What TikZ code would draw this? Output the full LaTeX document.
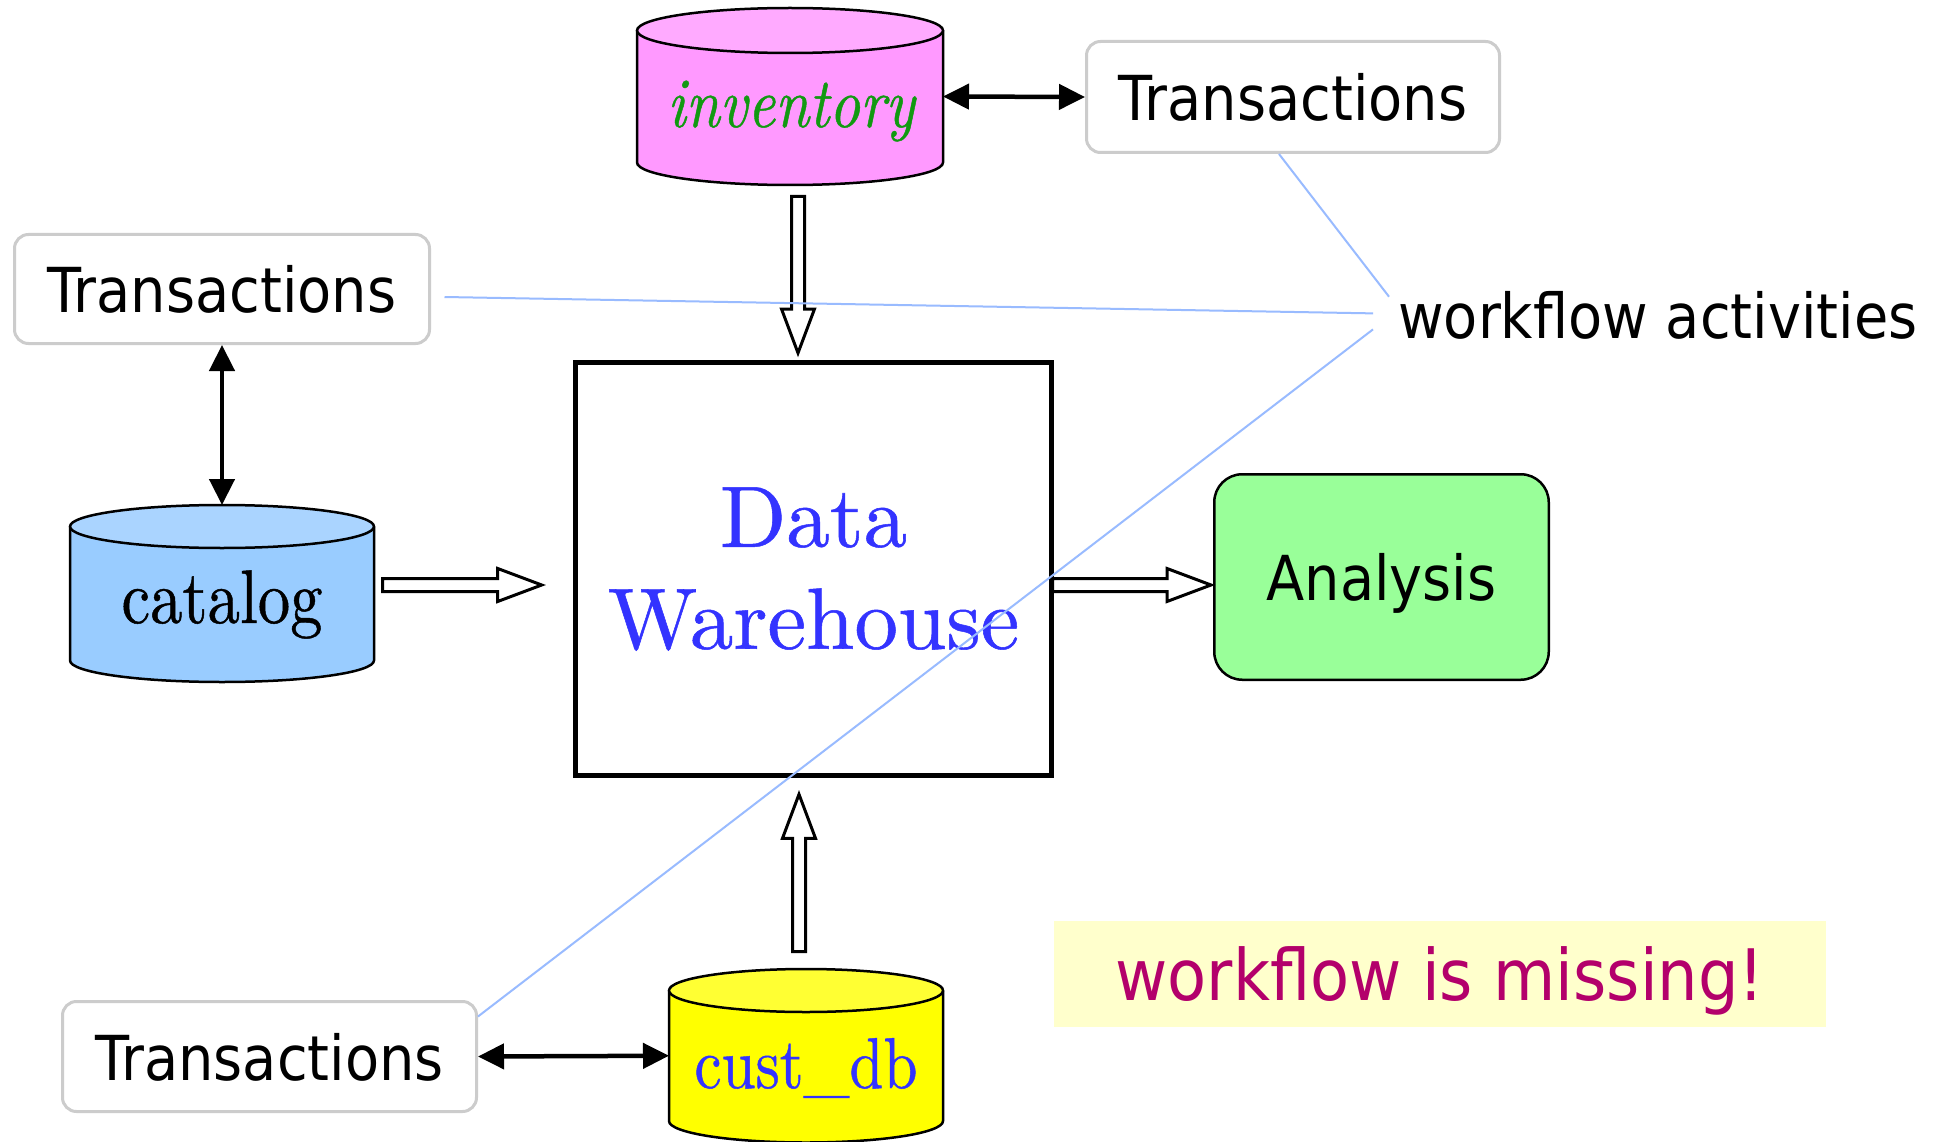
\documentclass[tikz,border=0pt]{standalone}
\usepackage{fontspec}
\usetikzlibrary{calc,arrows.meta}

\newfontfamily\tahoma{DejaVu Sans}[FakeStretch=0.9]
\newfontfamily\pala{lmroman10}[Extension=.otf, UprightFont=*-regular, ItalicFont=*-italic, FakeStretch=0.85, FakeBold=0.6]
\newfontfamily\dwfont{lmroman10}[Extension=.otf, UprightFont=*-regular, FakeBold=0.6]

\definecolor{invbody}{HTML}{FF99FF}
\definecolor{invtop}{HTML}{FFAAFF}
\definecolor{catbody}{HTML}{99CCFF}
\definecolor{cattop}{HTML}{AAD4FF}
\definecolor{custbody}{HTML}{FFFF00}
\definecolor{custtop}{HTML}{FFFF33}
\definecolor{invtext}{HTML}{119911}
\definecolor{dwblue}{HTML}{3333FF}
\definecolor{anagreen}{HTML}{99FF99}
\definecolor{trgray}{HTML}{CCCCCC}
\definecolor{linkblue}{HTML}{99BBFF}
\definecolor{notefill}{HTML}{FFFFCC}
\definecolor{notetext}{HTML}{B3006B}

\tikzset{
  cylline/.style={line width=2.5pt},
  cylframe/.style={rectangle, draw=none, inner sep=0pt, outer sep=0pt},
  tbox/.style={rectangle, rounded corners=14pt, draw=trgray, line width=3pt, fill=white,
    inner sep=0pt, font=\tahoma\fontsize{62}{62}\selectfont, text depth=0pt},
  dwbox/.style={rectangle, draw, line width=5pt, inner sep=0pt, text=dwblue, align=center,
    font=\dwfont\fontsize{87}{102}\selectfont},
  anabox/.style={rectangle, rounded corners=28pt, draw, line width=2.5pt, fill=anagreen,
    inner sep=0pt, font=\tahoma\fontsize{62}{62}\selectfont, text depth=0pt},
  notebox/.style={rectangle, fill=notefill, draw=none, inner sep=0pt, text=notetext,
    font=\tahoma\fontsize{71}{71}\selectfont, text depth=0pt},
  twoway/.style={line width=4.5pt,
    {Triangle[length=26pt,width=25pt]}-{Triangle[length=26pt,width=25pt]}},
  wfline/.style={draw=linkblue, line width=2pt},
  pics/hollowarrow/.style={code={
    \draw[line width=3pt, line join=miter, fill=white]
      (0pt,-6.5pt) -- (#1-44pt,-6.5pt) -- (#1-44pt,-16.5pt) -- (#1,0pt)
      -- (#1-44pt,16.5pt) -- (#1-44pt,6.5pt) -- (0pt,6.5pt) -- cycle;
  }}
}

% database cylinder: cx, top-centre y, bottom-centre y, rx, ry, body colour, top colour
\newcommand\dbcyl[7]{%
  \fill[#6] ({#1-#4},#2) -- ({#1-#4},#3)
    arc[start angle=180, end angle=360, x radius=#4, y radius=#5] -- ({#1+#4},#2) -- cycle;
  \draw[cylline] ({#1-#4},#2) -- ({#1-#4},#3)
    arc[start angle=180, end angle=360, x radius=#4, y radius=#5] -- ({#1+#4},#2);
  \draw[cylline, fill=#7] (#1,#2) ellipse[x radius=#4, y radius=#5];
}

% hollow block arrow between two named points
\newcommand\hollowlink[2]{%
  \path let \p1=($(#2)-(#1)$), \n1={veclen(\x1,\y1)}, \n2={atan2(\y1,\x1)}
    in (#1) pic[rotate=\n2]{hollowarrow=\n1};
}

\begin{document}
\begin{tikzpicture}[x=1pt, y=1pt]
\fill[white, use as bounding box] (0,0) rectangle (1933,-1142);

% databases
\dbcyl{790}{-30.5}{-162.5}{153}{22.5}{invbody}{invtop}
\node[cylframe, minimum width=306, minimum height=177] (inv) at (790,-96.5) {};
\node[font=\pala\itshape\fontsize{71}{71}\selectfont, text=invtext, anchor=base] (invlabel) at (791,-127) {inventory};

\dbcyl{222}{-526.5}{-660.5}{152}{21.5}{catbody}{cattop}
\node[cylframe, minimum width=304, minimum height=177] (cat) at (222,-593.5) {};
\node[font=\pala\fontsize{76}{76}\selectfont, anchor=base] (catlabel) at (222,-623) {catalog};

\dbcyl{806}{-990.5}{-1121}{137}{21.5}{custbody}{custtop}
\node[cylframe, minimum width=274, minimum height=173.5] (cust) at (806,-1055.75) {};
\node[font=\pala\fontsize{72}{72}\selectfont, text=dwblue, anchor=base] (custlabel) at (806,-1088) {cust\_db};

% boxes
\node[dwbox, minimum width=476, minimum height=413] (dw) at (813.5,-569) {Data\\Warehouse};
\node[anabox, minimum width=334.5, minimum height=205.5] (ana) at (1381.5,-577) {Analysis};

\node[tbox, minimum width=413, minimum height=111] (tr1) at (1293,-97) {Transactions};
\node[tbox, minimum width=415, minimum height=109] (tr2) at (222,-289) {Transactions};
\node[tbox, minimum width=414, minimum height=110] (tr3) at (269.5,-1056.5) {Transactions};

\node[anchor=base west, inner sep=0pt, font=\tahoma\fontsize{62}{62}\selectfont] (wfa) at (1398,-338) {workflow activities};

\node[notebox, minimum width=772, minimum height=106] (miss) at (1440,-974) {workflow is missing!};

% transaction links
\draw[twoway] (inv.east) -- (tr1.west);
\draw[twoway] (tr2.south) -- (cat.north);
\draw[twoway] (tr3.east) -- (cust.west);

% data flow into and out of the warehouse
\coordinate (ia1) at ($(inv.south)+(8,-11.5)$);
\coordinate (ia2) at ($(ia1 |- dw.north)+(0,7)$);
\coordinate (ca1) at ($(cat.east)+(8.5,8.5)$);
\coordinate (ca2) at ($(ca1 -| dw.west)+(-31.3,0)$);
\coordinate (aa1) at ($(dw.east |- ca1)+(-1.5,0)$);
\coordinate (aa2) at ($(aa1 -| ana.west)+(-2,0)$);
\coordinate (ua1) at ($(cust.north)+(-7,17.5)$);
\coordinate (ua2) at ($(ua1 |- dw.south)+(0,-16.3)$);
\hollowlink{ia1}{ia2}
\hollowlink{ca1}{ca2}
\hollowlink{aa1}{aa2}
\hollowlink{ua1}{ua2}

% callout lines to the transactions
\draw[wfline] ($(tr1.south)+(-14,0)$) -- ($(wfa.north west)+(-9,-6)$);
\draw[wfline] ($(tr2.east)+(13.5,-8)$) -- ($(wfa.west)+(-25,1.5)$);
\draw[wfline] ($(wfa.west)+(-25,-14.5)$) -- ($(tr3.north east)+(0,-16.5)$);
\end{tikzpicture}
\end{document}
